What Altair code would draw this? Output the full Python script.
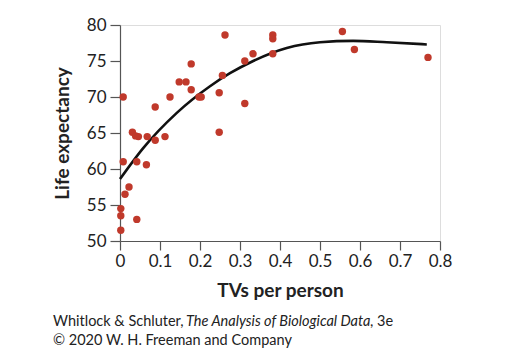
import altair as alt
import pandas as pd

# Scatter data
tvs = [0.008, 0.008, 0.002, 0.002, 0.002, 0.0125, 0.0225, 0.031, 0.039, 0.046,
       0.042, 0.042, 0.066, 0.068, 0.088, 0.088, 0.1125, 0.125, 0.148, 0.165,
       0.178, 0.178, 0.1975, 0.203, 0.248, 0.248, 0.256, 0.2625, 0.312, 0.312,
       0.3325, 0.382, 0.382, 0.382, 0.556, 0.586, 0.77]
life = [70.0, 61.0, 54.5, 53.5, 51.5, 56.5, 57.5, 65.1, 64.6, 64.5,
        61.0, 53.0, 60.6, 64.5, 64.0, 68.6, 64.5, 70.0, 72.1, 72.1,
        74.6, 71.0, 70.0, 70.0, 70.6, 65.1, 73.0, 78.6, 75.0, 69.1,
        76.0, 78.6, 78.1, 76.0, 79.1, 76.6, 75.5]

# Fitted curve
curve_x = [0.0, 0.058, 0.142, 0.225, 0.275, 0.333, 0.417, 0.5, 0.583, 0.667, 0.767]
curve_y = [58.6, 62.9, 67.8, 71.5, 73.3, 75.0, 76.8, 77.6, 77.8, 77.6, 77.3]

x_ticks = [0, 0.1, 0.2, 0.3, 0.4, 0.5, 0.6, 0.7, 0.8]
y_ticks = [50, 55, 60, 65, 70, 75, 80]

FONT = "Lato"

pts = pd.DataFrame({"x": tvs, "y": life})
crv = pd.DataFrame({"x": curve_x, "y": curve_y})

xscale = alt.Scale(domain=[0, 0.8], nice=False, zero=False)
yscale = alt.Scale(domain=[50, 80], nice=False, zero=False)

xaxis = alt.Axis(values=x_ticks, title="TVs per person", grid=False,
                 labelExpr="datum.value == 0 ? '0' : format(datum.value, '.1f')",
                 labelOverlap=False, labelFlush=False, tickCount=9,
                 tickSize=9, tickColor="#555", domainColor="#555", domainWidth=1.2,
                 tickWidth=1.2, labelFontSize=17, labelColor="#222",
                 labelPadding=3, titleFontSize=19, titleFontWeight="bold",
                 titleColor="#222", titlePadding=12, labelFont=FONT, titleFont=FONT)
yaxis = alt.Axis(values=y_ticks, title="Life expectancy", grid=False,
                 labelOverlap=False, labelFlush=False, tickCount=7,
                 tickSize=10, tickColor="#555", domainColor="#555", domainWidth=1.2,
                 tickWidth=1.2, labelFontSize=17, labelColor="#222",
                 labelPadding=4, titleFontSize=19, titleFontWeight="bold",
                 titleColor="#222", titlePadding=14, labelFont=FONT, titleFont=FONT)

points = alt.Chart(pts).mark_circle(size=55, color="#c0392b", opacity=1).encode(
    x=alt.X("x:Q", scale=xscale, axis=xaxis),
    y=alt.Y("y:Q", scale=yscale, axis=yaxis),
)

line = alt.Chart(crv).mark_line(color="#111", strokeWidth=2.6, interpolate="monotone").encode(
    x=alt.X("x:Q", scale=xscale, axis=xaxis),
    y=alt.Y("y:Q", scale=yscale, axis=yaxis),
)

FS = 14.5
foot = pd.DataFrame({"a": [0]})
t1 = alt.Chart(foot).mark_text(align="left", baseline="alphabetic", fontSize=FS,
                               font=FONT, color="#222",
                               text="Whitlock & Schluter,").encode(
    x=alt.value(-67), y=alt.value(301))
t2 = alt.Chart(foot).mark_text(align="left", baseline="alphabetic", fontSize=FS,
                               font=FONT, color="#222", fontStyle="italic",
                               text="The Analysis of Biological Data").encode(
    x=alt.value(66), y=alt.value(301))
t3 = alt.Chart(foot).mark_text(align="left", baseline="alphabetic", fontSize=FS,
                               font=FONT, color="#222",
                               text=", 3e").encode(
    x=alt.value(250), y=alt.value(301))
t4 = alt.Chart(foot).mark_text(align="left", baseline="alphabetic", fontSize=FS,
                               font=FONT, color="#222",
                               text="© 2020 W. H. Freeman and Company").encode(
    x=alt.value(-67), y=alt.value(320))

chart = alt.layer(line, points, t1, t2, t3, t4).properties(
    width=320, height=216,
    autosize=alt.AutoSizeParams(type="none"),
    padding={"left": 112, "top": 17, "right": 80, "bottom": 110},
).configure_view(stroke=None).configure(background="white")

chart.save("out.html", embed_options={"renderer": "svg", "actions": False})
